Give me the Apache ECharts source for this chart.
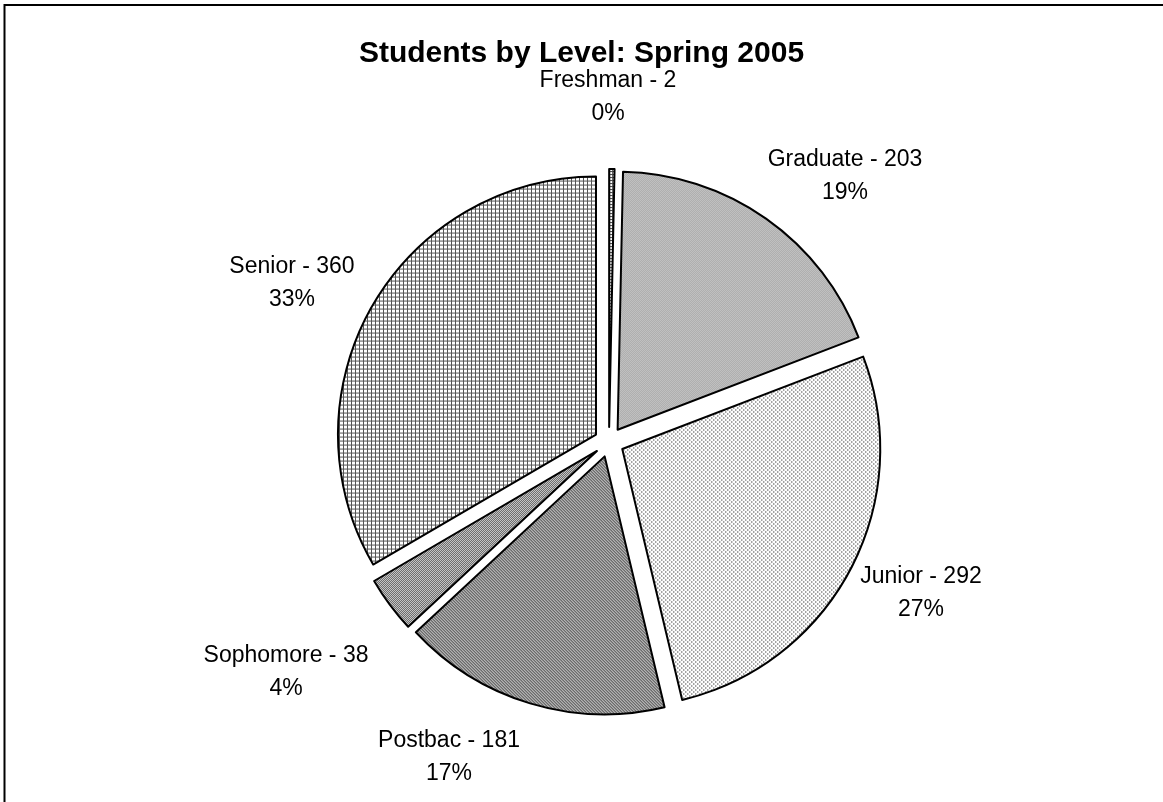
<!DOCTYPE html>
<html>
<head>
<meta charset="utf-8">
<script src="https://cdn.jsdelivr.net/npm/echarts@6/dist/echarts.min.js"></script>
<style>
html,body{margin:0;padding:0;background:#fff;}
#chart{width:1163px;height:802px;}
</style>
</head>
<body>
<div id="chart"></div>
<script>
// ---- data ----
const titleText = 'Students by Level: Spring 2005';
const categories = ['Freshman', 'Graduate', 'Junior', 'Postbac', 'Sophomore', 'Senior'];
const counts = [2, 203, 292, 181, 38, 360];

// ---- layout (pixel config, not data) ----
const CX = 609, CY = 442, R = 258;
const labelOffsets = [[-1, -345], [236, -266], [312, 151], [-160, 315], [-323, 230], [-317, -159]];

// percentages rounded to whole numbers summing to 100 (largest remainder)
function roundPercents(vals) {
  const total = vals.reduce((a, b) => a + b, 0);
  const raw = vals.map(v => v / total * 100);
  const fl = raw.map(Math.floor);
  let rest = 100 - fl.reduce((a, b) => a + b, 0);
  const order = raw.map((v, i) => [v - Math.floor(v), i]).sort((a, b) => b[0] - a[0]);
  for (let k = 0; k < rest; k++) fl[order[k][1]] += 1;
  return fl;
}
const percents = roundPercents(counts);

function makePattern(w, h, fn) {
  const c = document.createElement('canvas');
  c.width = w; c.height = h;
  const ctx = c.getContext('2d');
  for (let y = 0; y < h; y++) for (let x = 0; x < w; x++) {
    ctx.fillStyle = fn(x, y);
    ctx.fillRect(x, y, 1, 1);
  }
  return { image: c, repeat: 'repeat' };
}
const patterns = [
  makePattern(3, 3, (x, y) => (y === 0 || x === 0) ? '#444' : '#fff'),
  makePattern(2, 2, (x, y) => ((x + y) % 2 === 0) ? '#8c8c8c' : '#e4e4e4'),
  makePattern(4, 4, (x, y) => ((x === 0 && y < 2) || (x === 2 && y >= 2)) ? '#7a7a7a' : '#ffffff'),
  makePattern(3, 3, (x, y) => { const k = ((x - y) % 3 + 3) % 3; return k === 0 ? '#222' : (k === 1 ? '#8a8a8a' : '#fff'); }),
  makePattern(2, 2, (x, y) => ((x + y) % 2 === 0) ? '#6e6e6e' : '#c4c4c4'),
  makePattern(4, 4, (x, y) => (y === 0 || x === 0) ? '#555' : '#fff')
];

const FONT = 'Liberation Sans, Arial, sans-serif';
const labelGraphics = categories.map((name, i) => ({
  type: 'text',
  silent: true,
  style: {
    text: name + ' - ' + counts[i] + '\n' + percents[i] + '%',
    x: CX + labelOffsets[i][0],
    y: CY + labelOffsets[i][1],
    align: 'center',
    verticalAlign: 'middle',
    fontFamily: FONT,
    fontSize: 23,
    lineHeight: 33,
    fill: '#000'
  }
}));

const chart = echarts.init(document.getElementById('chart'), null, { renderer: 'canvas' });
chart.setOption({
  animation: false,
  backgroundColor: '#fff',
  title: {
    text: titleText,
    left: 'center',
    top: 34,
    textStyle: { fontFamily: FONT, fontSize: 30, fontWeight: 'bold', color: '#000' }
  },
  graphic: [{
    type: 'rect',
    shape: { x: 4.5, y: 5, width: 1300, height: 1000 },
    style: { fill: 'none', stroke: '#000', lineWidth: 2 },
    silent: true
  }].concat(labelGraphics),
  series: [{
    type: 'pie',
    center: [CX, CY],
    radius: R,
    startAngle: 90,
    clockwise: true,
    minAngle: 1.2,
    selectedMode: 'multiple',
    selectedOffset: 15,
    percentPrecision: 0,
    itemStyle: { borderColor: '#000', borderWidth: 2 },
    emphasis: { disabled: true },
    label: { show: false },
    labelLine: { show: false },
    data: categories.map((name, i) => ({
      name: name,
      value: counts[i],
      selected: true,
      itemStyle: { color: patterns[i] },
      select: { itemStyle: { color: patterns[i], borderColor: '#000', borderWidth: 2 } }
    }))
  }]
});
</script>
</body>
</html>
